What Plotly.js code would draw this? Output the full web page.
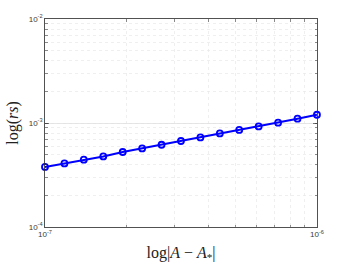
<!DOCTYPE html>
<html>
<head>
<meta charset="utf-8">
<script src="https://cdn.plot.ly/plotly-3.0.1.min.js"></script>
<style>html,body{margin:0;padding:0;background:#fff;}#chart{width:350px;height:263px;}</style>
</head>
<body>
<div id="chart"></div>
<script>
var xValues = [1.000e-7, 1.179e-7, 1.389e-7, 1.638e-7, 1.931e-7, 2.276e-7, 2.683e-7, 3.162e-7, 3.728e-7, 4.394e-7, 5.179e-7, 6.105e-7, 7.197e-7, 8.483e-7, 1.000e-6];
var rsValues = [3.78e-4, 4.09e-4, 4.44e-4, 4.77e-4, 5.26e-4, 5.70e-4, 6.18e-4, 6.71e-4, 7.27e-4, 7.94e-4, 8.57e-4, 9.27e-4, 1.007e-3, 1.10e-3, 1.20e-3];
var xTickVals = [1e-7, 1e-6];
var xTickText = ['10<sup>-7</sup>', '10<sup>-6</sup>'];
var yTickVals = [1e-4, 1e-3, 1e-2];
var yTickText = ['10<sup>-4</sup>', '10<sup>-3</sup>', '10<sup>-2</sup>'];

var trace = {
  x: xValues, y: rsValues, type: 'scatter', mode: 'lines+markers',
  line: {color: '#0000ff', width: 2},
  marker: {symbol: 'circle-open', size: 6, color: '#0000ff', line: {color: '#0000ff', width: 1.8}},
  showlegend: false, cliponaxis: false
};
var axisCommon = {
  type: 'log', showline: true, linecolor: '#262626', linewidth: 0.8, mirror: 'ticks',
  ticks: 'inside', ticklen: 4, tickwidth: 0.6, tickcolor: '#262626',
  showgrid: true, gridcolor: '#e0e0e0', gridwidth: 0.8, zeroline: false,
  tickfont: {family: 'Liberation Sans, Arial, sans-serif', size: 8, color: '#3a3a3a'},
  minor: {dtick: 'D1', ticks: 'inside', ticklen: 2.5, tickwidth: 0.5, tickcolor: '#262626', showgrid: true, gridcolor: '#e8e8e8', griddash: 'dot', gridwidth: 0.7}
};
var layout = {
  width: 350, height: 263,
  margin: {l: 45, r: 33, t: 19, b: 36},
  paper_bgcolor: '#fff', plot_bgcolor: '#fff',
  xaxis: Object.assign({}, axisCommon, {
    range: [-7, -5.9998], tickmode: 'array', tickvals: xTickVals, ticktext: xTickText,
    title: {text: 'log|<i>A</i> − <i>A</i><sub>*</sub>|', font: {family: 'Liberation Serif, Times New Roman, serif', size: 16, color: '#222'}, standoff: 8}
  }),
  yaxis: Object.assign({}, axisCommon, {
    range: [-4, -2], tickmode: 'array', tickvals: yTickVals, ticktext: yTickText,
    title: {text: 'log(<i>rs</i>)', font: {family: 'Liberation Serif, Times New Roman, serif', size: 16, color: '#222'}, standoff: 6}
  })
};
Plotly.newPlot('chart', [trace], layout, {displayModeBar: false, staticPlot: true});
</script>
</body>
</html>
